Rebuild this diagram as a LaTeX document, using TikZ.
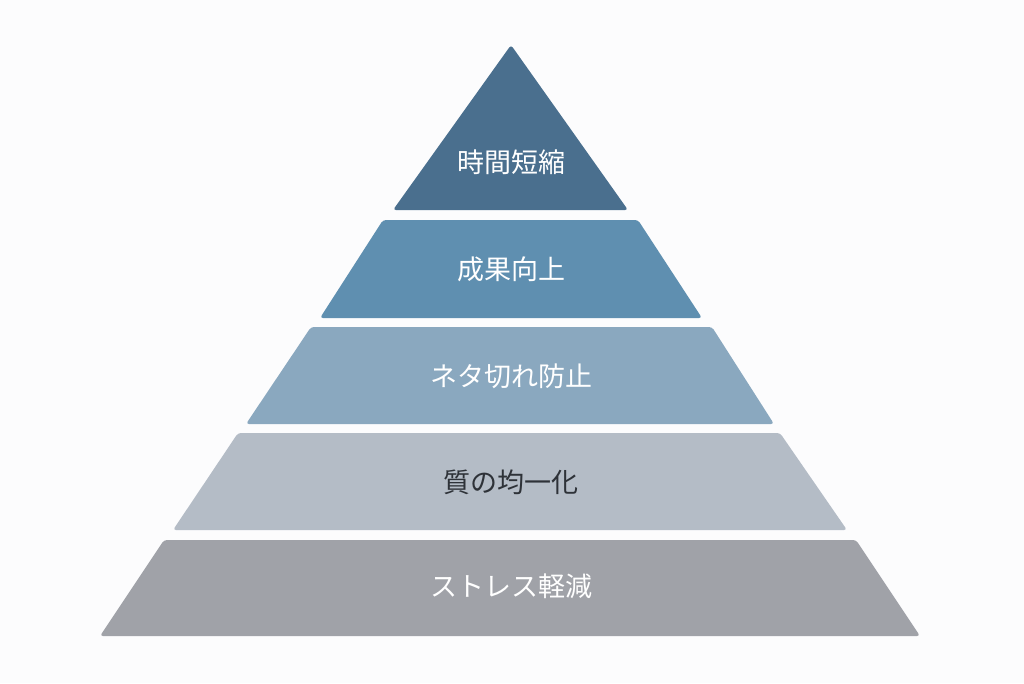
\documentclass[tikz,border=0pt]{standalone}
\usepackage{fontspec}
\newfontfamily\cjk{Noto Sans CJK JP}[BoldFont={Noto Sans CJK JP Bold}]
\definecolor{bg}{HTML}{FCFCFD}
\definecolor{cA}{HTML}{4A6F8E}
\definecolor{cB}{HTML}{5F8FB0}
\definecolor{cC}{HTML}{8AA8BF}
\definecolor{cD}{HTML}{B4BCC6}
\definecolor{cE}{HTML}{A0A2A8}
\definecolor{txtd}{HTML}{2E3238}
\tikzset{layer/.style={rounded corners=3pt},
lab/.style={font=\cjk\fontsize{27}{30}\selectfont, text=white}}
\begin{document}
\begin{tikzpicture}[x=1pt,y=-1pt]
\fill[bg] (0,0) rectangle (1024,683);
\useasboundingbox (0,0) rectangle (1024,683);
\fill[layer,cA] (511,45) -- (628,210) -- (393,210) -- cycle;
\fill[layer,cB] (383,220) -- (638,220) -- (702,318) -- (320,318) -- cycle;
\fill[layer,cC] (311,327) -- (712,327) -- (774,424) -- (246,424) -- cycle;
\fill[layer,cD] (238,433) -- (780,433) -- (847,530) -- (173,530) -- cycle;
\fill[layer,cE] (164,540) -- (856,540) -- (920,636) -- (100,636) -- cycle;
\node[lab] (t1) at (511,162) {時間短縮};
\node[lab] (t2) at (511,269) {成果向上};
\node[lab] (t3) at (511,376) {ネタ切れ防止};
\node[lab,text=txtd] (t4) at (511,482) {質の均一化};
\node[lab] (t5) at (511,586) {ストレス軽減};
\end{tikzpicture}
\end{document}
